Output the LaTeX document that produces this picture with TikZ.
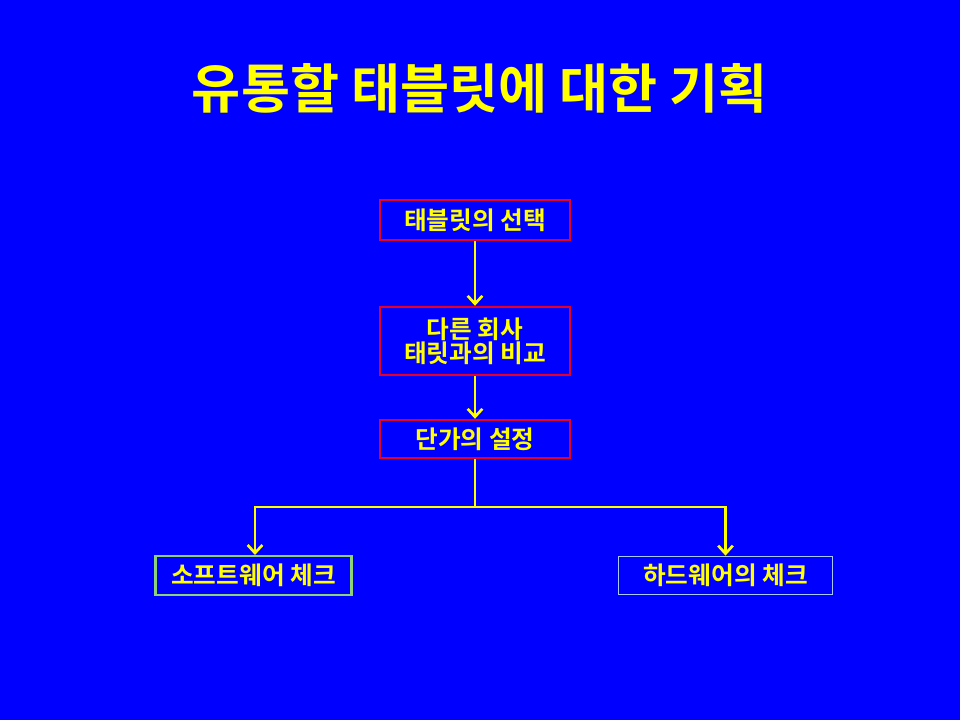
\documentclass[tikz,border=0pt]{standalone}
\usepackage{fontspec}
\setmainfont{Noto Sans CJK KR}[BoldFont={Noto Sans CJK KR Bold}]
\usetikzlibrary{arrows.meta}
\definecolor{bg}{RGB}{0,0,255}
\definecolor{ylw}{RGB}{255,255,0}
\definecolor{rd}{RGB}{230,0,40}
\definecolor{grn}{RGB}{140,210,120}
\definecolor{lb}{RGB}{170,200,255}
\tikzset{
 box/.style={draw=rd,line width=1.8pt,text=ylw,font=\bfseries\fontsize{18.5}{21}\selectfont,align=center,inner sep=0pt},
 conn/.style={draw=ylw,line width=2pt},
 arr/.style={conn,-{Straight Barb[length=6pt,width=11pt]}}
}
\begin{document}
\begin{tikzpicture}[x=0.75pt,y=-0.75pt]
\fill[bg] (0,0) rectangle (960,720);
\useasboundingbox (0,0) rectangle (960,720);
\node[text=ylw,font=\bfseries\fontsize{40}{44}\selectfont] (title) at (480,88) {유통할 태블릿에 대한 기획};
\node[box,minimum width=142.5pt,minimum height=30pt] (b1) at (475,220) {태블릿의 선택};
\node[box,minimum width=142.5pt,minimum height=51pt] (b2) at (475,341) {다른 회사\\[-3pt]태릿과의 비교};
\node[box,minimum width=142.5pt,minimum height=28.5pt] (b3) at (475,439) {단가의 설정};
\node[box,draw=grn,minimum width=147pt,minimum height=29pt] (s) at (253.5,575.5) {소프트웨어 체크};
\node[box,draw=lb,line width=0.6pt,minimum width=161pt,minimum height=28.5pt] (h) at (725.5,575) {하드웨어의 체크};
\coordinate (j) at (475,507);
\draw[arr] (b1) -- (b2);
\draw[arr] (b2) -- (b3);
\draw[conn] (b3) -- (j);
\draw[arr] (j) -| (s.north -| 255,0);
\draw[arr] (j) -| (h.north);
\end{tikzpicture}
\end{document}
